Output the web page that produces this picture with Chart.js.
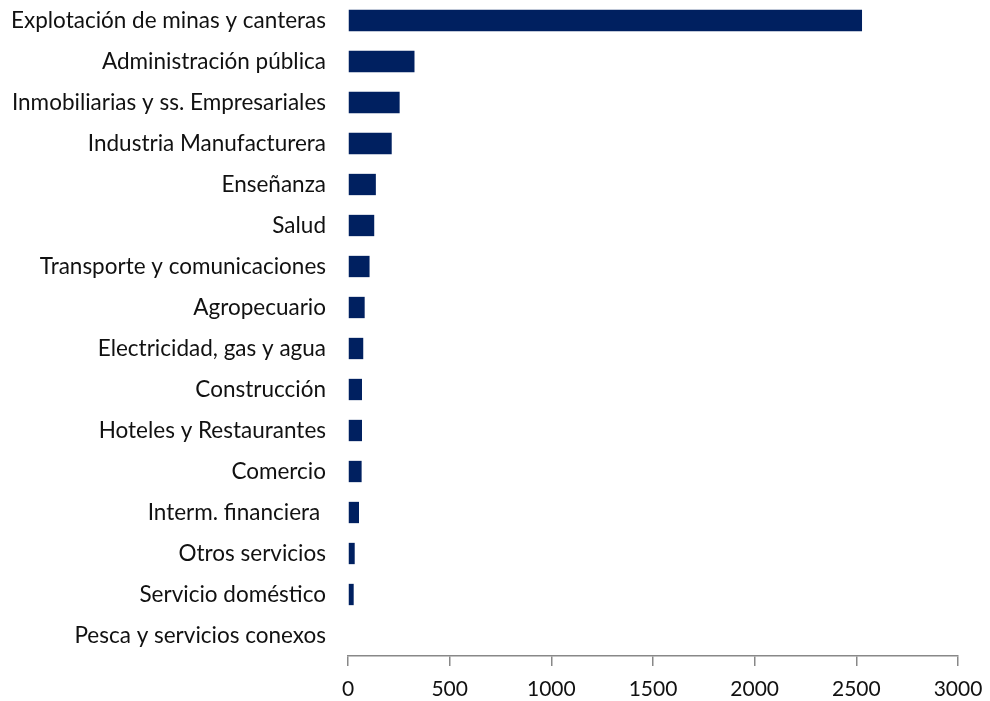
<!DOCTYPE html>
<html>
<head>
<meta charset="utf-8">
<script src="https://cdn.jsdelivr.net/npm/chart.js@4.4.0/dist/chart.umd.min.js"></script>
<style>
  html, body { margin: 0; padding: 0; background: #fff; }
  #wrap { width: 990px; height: 701px; position: relative; }
</style>
</head>
<body>
<div id="wrap"><canvas id="chart"></canvas></div>
<script>
const sectors = [
    'Explotación de minas y canteras',
    'Administración pública',
    'Inmobiliarias y ss. Empresariales',
    'Industria Manufacturera',
    'Enseñanza',
    'Salud',
    'Transporte y comunicaciones',
    'Agropecuario',
    'Electricidad, gas y agua',
    'Construcción',
    'Hoteles y Restaurantes',
    'Comercio',
    'Interm. financiera ',
    'Otros servicios',
    'Servicio doméstico',
    'Pesca y servicios conexos'
];
const values = [2528, 327, 254, 215, 137, 129, 106, 82, 75, 69, 69, 67, 54, 33, 28, 0];
const xTicks = [0, 500, 1000, 1500, 2000, 2500, 3000];

const fontFamily = 'Lato, "Open Sans", sans-serif';

const ctx = document.getElementById('chart').getContext('2d');
new Chart(ctx, {
    type: 'bar',
    data: {
        labels: sectors,
        datasets: [{
            data: values,
            backgroundColor: '#002060',
            borderWidth: 0,
            categoryPercentage: 1,
            barPercentage: 0.52
        }]
    },
    options: {
        indexAxis: 'y',
        responsive: true,
        maintainAspectRatio: false,
        animation: false,
        layout: { padding: { top: 0, right: 32, bottom: 0, left: 0 } },
        plugins: {
            legend: { display: false },
            tooltip: { enabled: false }
        },
        scales: {
            x: {
                min: 0,
                max: 3000,
                afterBuildTicks: scale => {
                    scale.ticks = xTicks.map(v => ({ value: v }));
                },
                afterFit: scale => {
                    scale.height = 45;
                    scale.paddingLeft = 0;
                    scale.paddingRight = 0;
                },
                grid: {
                    drawOnChartArea: false,
                    drawTicks: true,
                    tickLength: 10,
                    color: '#888888',
                    lineWidth: 1.5
                },
                border: { display: true, color: '#888888', width: 1.5 },
                ticks: {
                    padding: 11,
                    color: '#111111',
                    font: { family: fontFamily, size: 21 },
                    callback: v => String(v)
                }
            },
            y: {
                afterFit: scale => {
                    scale.width = 348;
                    scale.paddingTop = 0;
                    scale.paddingBottom = 0;
                },
                grid: { display: false, drawTicks: false },
                border: { display: false },
                ticks: {
                    padding: 22,
                    color: '#111111',
                    autoSkip: false,
                    font: { family: fontFamily, size: 22.5 }
                }
            }
        }
    }
});
</script>
</body>
</html>
